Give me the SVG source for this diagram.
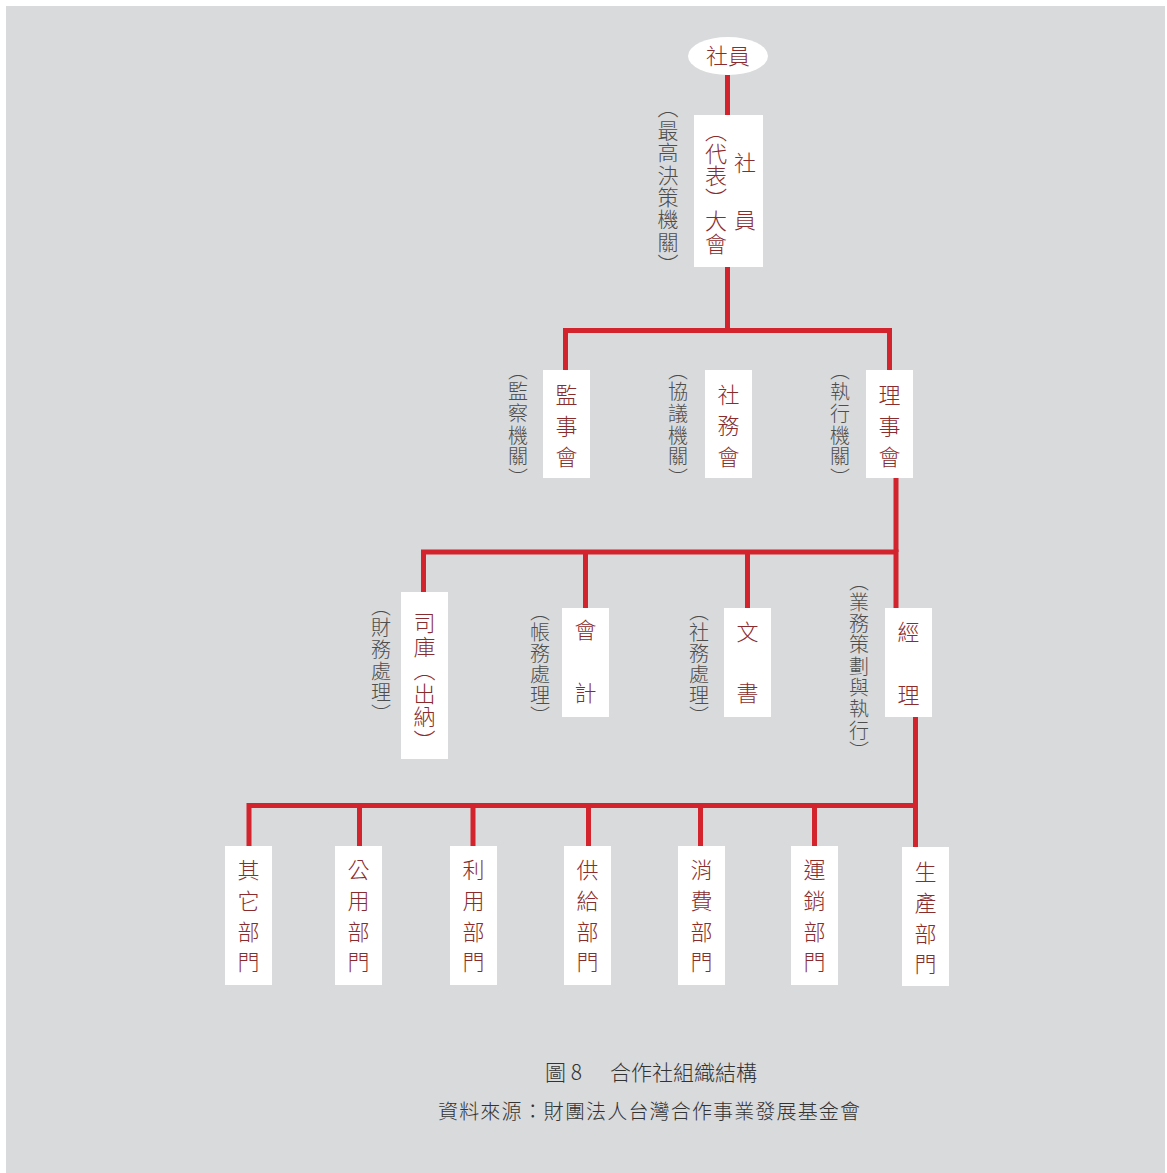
<svg xmlns="http://www.w3.org/2000/svg" width="1167" height="1173" viewBox="0 0 1167 1173">
<style>
.bg{fill:#d9dadc}
.box{fill:#ffffff}
.ln{fill:none;stroke:#d3232d;stroke-width:5;stroke-linejoin:miter;stroke-linecap:butt}
.v{font-family:"Noto Sans CJK TC","Noto Sans CJK SC",sans-serif;writing-mode:vertical-rl;font-weight:300}
.lab{fill:#8a2c2c;font-size:22px}
.ann{fill:#4d4d4d;font-size:20px}
.cap{font-family:"Noto Sans CJK TC","Noto Sans CJK SC",sans-serif;font-size:20px;fill:#333333;font-weight:300}
</style>
<rect class="bg" x="6" y="6" width="1159" height="1167"/>

<g id="connectors">
<path class="ln" d="M727.5 75 V115"/>
<path class="ln" d="M727.5 267 V330.5"/>
<path class="ln" d="M565.5 370 V330.5 H889.5 V370"/>
<path class="ln" d="M896 478 V552"/>
<path class="ln" d="M423.5 592 V552 H896 V608"/>
<path class="ln" d="M585.5 552 V608"/>
<path class="ln" d="M747.5 552 V608"/>
<path class="ln" d="M915.5 717 V805.5"/>
<path class="ln" d="M249 846 V805.5 H915.5 V847"/>
<path class="ln" d="M359.5 805.5 V846"/>
<path class="ln" d="M473 805.5 V846"/>
<path class="ln" d="M588.5 805.5 V846"/>
<path class="ln" d="M700.5 805.5 V846"/>
<path class="ln" d="M814.5 805.5 V846"/>
</g>

<g id="n-members">
<ellipse cx="728" cy="56" rx="40" ry="19" fill="#ffffff"/>
<text x="728" y="64" text-anchor="middle" class="cap" style="font-size:22px;fill:#8a2c2c">社員</text>
</g>

<g id="n-assembly">
<rect class="box" x="694" y="115" width="69" height="152"/>
<text class="v lab" x="716" y="120" style="letter-spacing:0.5px">︵代表︶大會</text>
<text class="v lab" x="745" y="152" style="letter-spacing:35px">社員</text>
<text class="v ann" x="668" y="97" style="font-size:21px;letter-spacing:1.4px">︵最高決策機關︶</text>
</g>

<g id="n-supervisors">
<rect class="box" x="543" y="370" width="47" height="108"/>
<text class="v lab" x="566.5" y="384" style="letter-spacing:9px">監事會</text>
<text class="v ann" x="518" y="360" style="letter-spacing:1.7px">︵監察機關︶</text>
</g>

<g id="n-council">
<rect class="box" x="705" y="370" width="47" height="108"/>
<text class="v lab" x="728.5" y="384" style="letter-spacing:9px">社務會</text>
<text class="v ann" x="678" y="360" style="letter-spacing:1.7px">︵協議機關︶</text>
</g>

<g id="n-board">
<rect class="box" x="866" y="370" width="47" height="108"/>
<text class="v lab" x="889.5" y="384" style="letter-spacing:9px">理事會</text>
<text class="v ann" x="840" y="360" style="letter-spacing:1.7px">︵執行機關︶</text>
</g>

<g id="n-treasurer">
<rect class="box" x="401" y="592" width="47" height="167"/>
<text class="v lab" x="424.5" y="612" style="letter-spacing:1.5px">司庫︵出納︶</text>
<text class="v ann" x="381" y="596" style="letter-spacing:1.7px">︵財務處理︶</text>
</g>

<g id="n-accounting">
<rect class="box" x="562" y="608" width="47" height="109"/>
<text class="v lab" x="585.5" y="619" style="letter-spacing:41px">會計</text>
<text class="v ann" x="540" y="601" style="letter-spacing:1px">︵帳務處理︶</text>
</g>

<g id="n-secretary">
<rect class="box" x="724" y="608" width="47" height="109"/>
<text class="v lab" x="747.5" y="621" style="letter-spacing:39px">文書</text>
<text class="v ann" x="699" y="601" style="letter-spacing:1px">︵社務處理︶</text>
</g>

<g id="n-manager">
<rect class="box" x="885" y="608" width="47" height="109"/>
<text class="v lab" x="908.5" y="621" style="letter-spacing:41px">經理</text>
<text class="v ann" x="859" y="571" style="letter-spacing:1.3px">︵業務策劃與執行︶</text>
</g>

<g id="n-other">
<rect class="box" x="225" y="846" width="47" height="139"/>
<text class="v lab" x="248.5" y="859" style="letter-spacing:8.7px">其它部門</text>
</g>
<g id="n-public">
<rect class="box" x="335" y="846" width="47" height="139"/>
<text class="v lab" x="358.5" y="859" style="letter-spacing:8.7px">公用部門</text>
</g>
<g id="n-utilization">
<rect class="box" x="450" y="846" width="47" height="139"/>
<text class="v lab" x="473.5" y="859" style="letter-spacing:8.7px">利用部門</text>
</g>
<g id="n-supply">
<rect class="box" x="564" y="846" width="47" height="139"/>
<text class="v lab" x="587.5" y="859" style="letter-spacing:8.7px">供給部門</text>
</g>
<g id="n-consumer">
<rect class="box" x="678" y="846" width="47" height="139"/>
<text class="v lab" x="701.5" y="859" style="letter-spacing:8.7px">消費部門</text>
</g>
<g id="n-marketing">
<rect class="box" x="791" y="846" width="47" height="139"/>
<text class="v lab" x="814.5" y="859" style="letter-spacing:8.7px">運銷部門</text>
</g>
<g id="n-production">
<rect class="box" x="902" y="847" width="47" height="139"/>
<text class="v lab" x="925.5" y="861" style="letter-spacing:8.7px">生產部門</text>
</g>

<g id="caption">
<text class="cap" y="1080" style="font-size:21px"><tspan x="545">圖 8</tspan><tspan x="610">合作社組織結構</tspan></text>
<text class="cap" x="438" y="1119" textLength="422" lengthAdjust="spacing">資料來源：財團法人台灣合作事業發展基金會</text>
</g>
</svg>
